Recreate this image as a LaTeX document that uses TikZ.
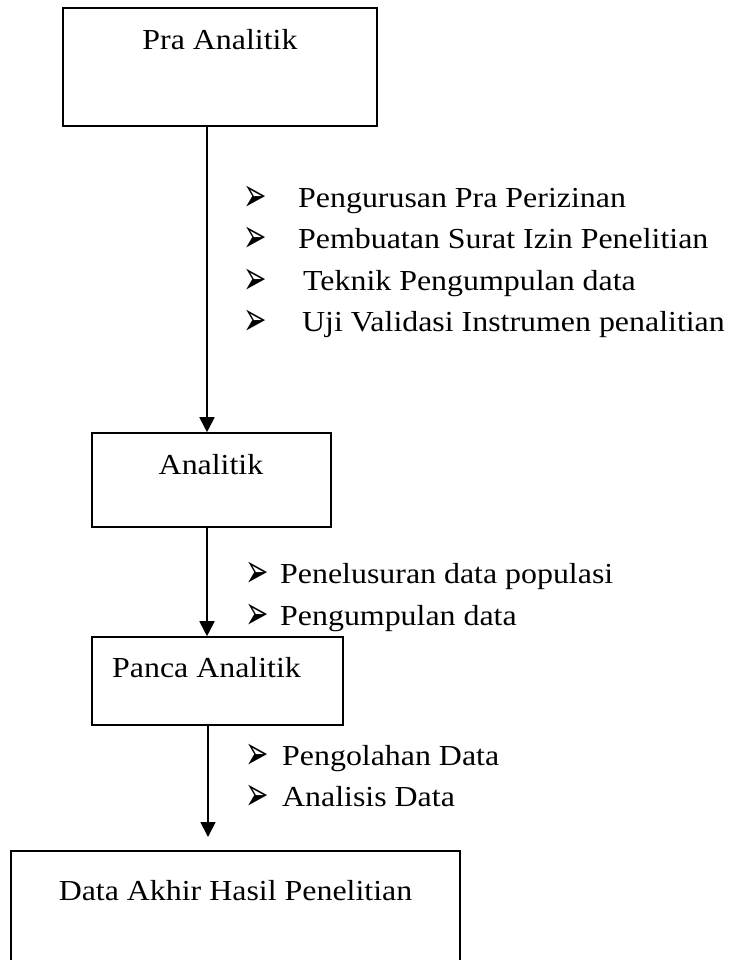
\documentclass[tikz,border=0pt]{standalone}
\usepackage{fontspec}
\setmainfont{Liberation Serif}[FakeStretch=1.1]
\newfontfamily\dejavu{DejaVu Sans}
\usetikzlibrary{arrows.meta,calc}
\newcommand{\arrbullet}{\scalebox{1.0}[1.7]{\dejavu\fontsize{28}{30}\selectfont ➢}}
\tikzset{
  box/.style={draw, line width=1.6pt, inner sep=0pt},
  lbl/.style={inner sep=0pt, font=\fontsize{29}{35}\selectfont},
  itm/.style={inner sep=0pt, anchor=base west, font=\fontsize{29}{35}\selectfont},
  bul/.style={inner sep=0pt, anchor=base west},
  arr/.style={line width=1.8pt, -{Triangle[length=15pt,width=15pt]}}
}
\begin{document}
\begin{tikzpicture}[x=1pt,y=-1pt]
\useasboundingbox (0,0) rectangle (736,960);
% boxes
\node[box, minimum width=314pt, minimum height=118pt] (pra) at (220,67) {};
\node[box, minimum width=239pt, minimum height=94pt] (ana) at (211.5,480) {};
\node[box, minimum width=251pt, minimum height=88pt] (pan) at (217.5,681) {};
\node[box, minimum width=449pt, minimum height=130pt] (dat) at (235.5,916) {};
% box labels
\node[lbl, anchor=base] (praT) at (220,50) {Pra Analitik};
\node[lbl, anchor=base] (anaT) at (211,474) {Analitik};
\node[lbl, anchor=base west] (panT) at (112,677) {Panca Analitik};
\node[lbl, anchor=base] (datT) at (235.5,900) {Data Akhir Hasil Penelitian};
% connector guides
\coordinate (c1) at (207,0);
\coordinate (c2) at (208,0);
\coordinate (e3) at (208,837);
\draw[arr] (pra.south -| c1) -- (ana.north -| c1);
\draw[arr] (ana.south -| c1) -- (pan.north -| c1);
\draw[arr] (pan.south -| c2) -- (e3);
% list 1
\node[bul] (b11) at (243,211) {\arrbullet};
\node[itm] (t11) at (298,207) {Pengurusan Pra Perizinan};
\node[bul] (b12) at (243,252.5) {\arrbullet};
\node[itm] (t12) at (298,248.5) {Pembuatan Surat Izin Penelitian};
\node[bul] (b13) at (243,294) {\arrbullet};
\node[itm] (t13) at (303,290) {Teknik Pengumpulan data};
\node[bul] (b14) at (243,335) {\arrbullet};
\node[itm] (t14) at (302,331) {Uji Validasi Instrumen penalitian};
% list 2
\node[bul] (b21) at (245,587) {\arrbullet};
\node[itm] (t21) at (280,583) {Penelusuran data populasi};
\node[bul] (b22) at (245,629) {\arrbullet};
\node[itm] (t22) at (280,625) {Pengumpulan data};
% list 3
\node[bul] (b31) at (245,769) {\arrbullet};
\node[itm] (t31) at (282,765) {Pengolahan Data};
\node[bul] (b32) at (245,810) {\arrbullet};
\node[itm] (t32) at (282,806) {Analisis Data};
\end{tikzpicture}
\end{document}
